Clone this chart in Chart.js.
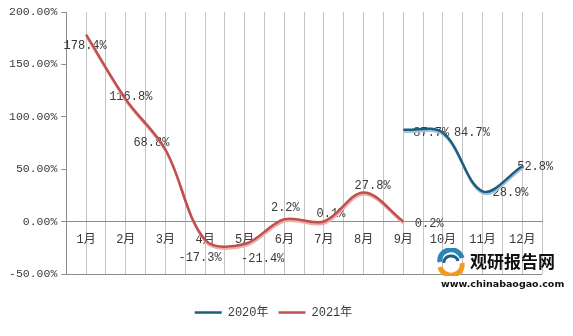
<!DOCTYPE html>
<html>
<head>
<meta charset="utf-8">
<script src="https://cdn.jsdelivr.net/npm/chart.js@4.4.0/dist/chart.umd.min.js"></script>
<style>
    body { margin: 0; background: #fff; }
    #wrap { position: relative; width: 573px; height: 336px; }
    #mark { position: absolute; left: 436px; top: 247px; width: 137px; height: 45px; white-space: nowrap; }
    #mark .logo { position: absolute; left: 0; top: 1px; }
    #mark .cn { position: absolute; left: 34px; top: 3px; font: bold 17px 'Noto Sans CJK SC', sans-serif; color: #111; line-height: 22px; }
    #mark .url { position: absolute; left: 5px; top: 31px; font: bold 9.5px 'DejaVu Sans', sans-serif; color: #111; line-height: 12px; }
</style>
</head>
<body>
<div id="wrap">
    <canvas id="line"></canvas>
    <div id="mark">
        <svg class="logo" width="30" height="28" viewBox="0 0 30 28">
            <path d="M4 14 A11 10 0 0 1 26 10" stroke="#2a86b8" stroke-width="5" fill="none"/>
            <path d="M8 15 A7 6 0 0 1 22 13" stroke="#1d5f86" stroke-width="3" fill="none"/>
            <path d="M26 15 A11 10 0 0 1 4 19" stroke="#f39a1e" stroke-width="5" fill="none"/>
        </svg>
        <span class="cn">观研报告网</span>
        <span class="url">www.chinabaogao.com</span>
    </div>
</div>
<script>
var months = ['1月', '2月', '3月', '4月', '5月', '6月', '7月', '8月', '9月', '10月', '11月', '12月'];
var values2020 = [null, null, null, null, null, null, null, null, 87.7, 84.7, 28.9, 52.8];
var values2021 = [178.4, 116.8, 68.8, -17.3, -21.4, 2.2, 0.1, 27.8, 0.2, null, null, null];
var yTicks = [-50, 0, 50, 100, 150, 200];

// where each value label sits relative to its point (px)
var labelShift2020 = [null, null, null, null, null, null, null, null, [28, 3], [29, 0], [28, 2], [13, 1]];
var labelShift2021 = [[-1, 11], [5, -2], [-14, -7], [-5, 18], [18, 15], [1, -11], [7, -8], [9, -7], [26, 2]];

var textFont = "'Liberation Mono', 'Noto Sans CJK SC', monospace";
var textColor = '#3a3a3a';

var valueLabels = {
    id: 'valueLabels',
    beforeDatasetsDraw: function(chart) {
        var ctx = chart.ctx;
        ctx.save();
        ctx.font = '12px ' + textFont;
        ctx.fillStyle = textColor;
        ctx.textAlign = 'center';
        ctx.textBaseline = 'middle';
        chart.data.datasets.forEach(function(ds, i) {
            var meta = chart.getDatasetMeta(i);
            meta.data.forEach(function(pt, j) {
                var v = ds.data[j];
                if (v === null || v === undefined) return;
                var s = ds.labelShift[j] || [0, 0];
                ctx.fillText(v.toFixed(1) + '%', pt.x + s[0], pt.y + s[1]);
            });
        });
        ctx.restore();
    }
};

// light copy under each line, like the excel 3d look
var lineShade = {
    id: 'lineShade',
    beforeDatasetDraw: function(chart, args) {
        var ctx = chart.ctx;
        ctx.save();
        ctx.shadowColor = args.meta._dataset.shadeColor;
        ctx.shadowOffsetX = 0.5;
        ctx.shadowOffsetY = 2;
        ctx.shadowBlur = 0;
    },
    afterDatasetDraw: function(chart) {
        chart.ctx.restore();
    }
};

var ctx = document.getElementById('line').getContext('2d');

var myChart = new Chart(ctx, {
    type: 'line',
    data: {
        labels: months,
        datasets: [{
            label: '2020年',
            data: values2020,
            borderColor: '#1f5d7e',
            backgroundColor: '#1f5d7e',
            shadeColor: '#9fc6dd',
            labelShift: labelShift2020,
            borderWidth: 2.5,
            pointRadius: 0,
            tension: 0.35,
            spanGaps: false
        }, {
            label: '2021年',
            data: values2021,
            borderColor: '#c0504d',
            backgroundColor: '#c0504d',
            shadeColor: '#eab0ae',
            labelShift: labelShift2021,
            borderWidth: 2.5,
            pointRadius: 0,
            tension: 0.35,
            spanGaps: false
        }]
    },
    options: {
        responsive: true,
        maintainAspectRatio: false,
        animation: false,
        layout: {
            padding: { left: 5, top: 12, right: 31, bottom: 7.5 }
        },
        plugins: {
            tooltip: { enabled: false },
            legend: {
                position: 'bottom',
                title: { display: true, text: '', font: { size: 1, lineHeight: 1 }, padding: { top: 21.5, bottom: 0 } },
                labels: {
                    usePointStyle: true,
                    pointStyle: 'line',
                    pointStyleWidth: 27,
                    padding: 10,
                    color: textColor,
                    font: { size: 12, family: textFont }
                }
            }
        },
        scales: {
            x: {
                type: 'category',
                position: { y: 0 },
                offset: true,
                grid: { offset: true, color: '#c4c4c4', drawTicks: false },
                border: { display: true, color: '#8c8c8c', width: 1 },
                ticks: { color: textColor, padding: 11, maxRotation: 0, autoSkip: false, font: { size: 12, family: textFont } }
            },
            x2: {
                type: 'category',
                position: { y: 0 },
                offset: true,
                grid: { offset: false, color: '#c4c4c4', drawTicks: false },
                border: { display: false },
                ticks: { display: false }
            },
            y: {
                min: -50,
                max: 200,
                afterBuildTicks: function(axis) {
                    axis.ticks = yTicks.map(function(v) { return { value: v }; });
                },
                grid: {
                    color: function(c) { return c.tick && c.tick.value === -50 ? '#8c8c8c' : 'rgba(0,0,0,0)'; },
                    tickColor: '#8c8c8c',
                    tickLength: 5
                },
                border: { color: '#8c8c8c' },
                ticks: {
                    color: textColor,
                    padding: 4,
                    font: { size: 11.5, family: textFont },
                    callback: function(v) { return v.toFixed(2) + '%'; }
                }
            }
        }
    },
    plugins: [valueLabels, lineShade]
});
</script>
</body>
</html>
